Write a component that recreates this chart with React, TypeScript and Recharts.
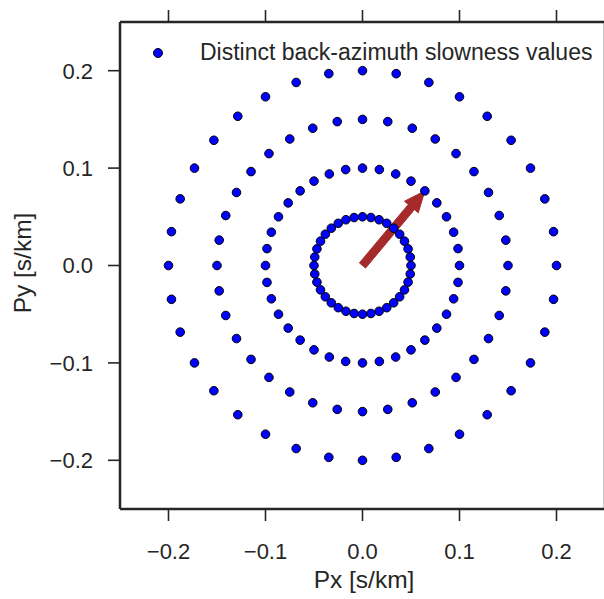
import React from 'react';
import { ScatterChart, Scatter, XAxis, YAxis, Legend, ReferenceLine } from 'recharts';

// slowness rings [s/km] and back-azimuths [deg] of the grid
const slownessRings = [0.05, 0.1, 0.15, 0.2];
const backAzimuths = [
  0, 10, 20, 30, 40, 50, 60, 70, 80, 90, 100, 110, 120, 130, 140, 150, 160, 170,
  180, 190, 200, 210, 220, 230, 240, 250, 260, 270, 280, 290, 300, 310, 320, 330, 340, 350,
];
const axisTicks = [-0.2, -0.1, 0.0, 0.1, 0.2];
const arrowSlowness = 0.1;
const arrowBackAzimuth = 40;

const deg = Math.PI / 180;
const points = slownessRings.flatMap(s =>
  backAzimuths.map(b => ({ px: s * Math.sin(b * deg), py: s * Math.cos(b * deg) }))
);
const arrowTip = {
  x: arrowSlowness * Math.sin(arrowBackAzimuth * deg),
  y: arrowSlowness * Math.cos(arrowBackAzimuth * deg),
};

const ink = '#262626';
const font = '"Liberation Sans", Arial, sans-serif';
const fmt = (v: number) => (v < 0 ? '\u2212' : '') + Math.abs(v).toFixed(1);

const Dot = (props: any) => (
  <circle cx={props.cx} cy={props.cy} r={4.3} fill="#0000ff" stroke="#000" strokeWidth={1} />
);

const Arrow = (props: any) => {
  const { x1, y1, x2, y2 } = props;
  const dx = x2 - x1, dy = y2 - y1;
  const len = Math.sqrt(dx * dx + dy * dy);
  const ux = dx / len, uy = dy / len;
  const nx = -uy, ny = ux;
  const w = 4, hw = 9, hl = 21;
  const bx = x2 - ux * hl, by = y2 - uy * hl;
  const pts = [
    [x1 + nx * w, y1 + ny * w],
    [bx + nx * w, by + ny * w],
    [bx + nx * hw, by + ny * hw],
    [x2, y2],
    [bx - nx * hw, by - ny * hw],
    [bx - nx * w, by - ny * w],
    [x1 - nx * w, y1 - ny * w],
  ];
  return (
    <polygon
      points={pts.map(p => p.join(',')).join(' ')}
      fill="#a52a2a"
      stroke="#a52a2a"
      strokeWidth={1}
    />
  );
};

const LegendBox = (props: any) => {
  const label = props.payload && props.payload[0] ? props.payload[0].value : '';
  return (
    <svg width={604} height={80} style={{ display: 'block' }}>
      <circle cx={158} cy={53} r={4.5} fill="#0000ff" stroke="#000" strokeWidth={1} />
      <text x={200} y={60} fontSize={23} fontFamily={font} fill={ink}>
        {label}
      </text>
    </svg>
  );
};

export default function App() {
  const tickStyle = { fontSize: 22, fontFamily: font, fill: ink };
  return (
    <div style={{ position: 'absolute', left: 0, top: 0, width: 604, height: 599, overflow: 'hidden', background: '#fff' }}>
      <ScatterChart width={606} height={599} margin={{ top: 0, right: 0, bottom: 0, left: 0 }}>
        <XAxis
          type="number"
          dataKey="px"
          domain={[-0.25, 0.25]}
          ticks={axisTicks}
          tickFormatter={fmt}
          height={90}
          tickSize={12}
          tickMargin={22}
          tick={tickStyle}
          axisLine={{ stroke: ink, strokeWidth: 2.5 }}
          tickLine={{ stroke: ink, strokeWidth: 1.6 }}
          allowDataOverflow
          label={() => (
            <text x={364} y={588} textAnchor="middle" fontSize={24.5} fontFamily={font} fill={ink}>
              Px [s/km]
            </text>
          )}
        />
        <XAxis
          xAxisId="top"
          orientation="top"
          type="number"
          dataKey="px"
          domain={[-0.25, 0.25]}
          ticks={axisTicks}
          height={22}
          tickSize={12}
          tick={() => <g />}
          axisLine={{ stroke: ink, strokeWidth: 2.5 }}
          tickLine={{ stroke: ink, strokeWidth: 1.6 }}
          allowDataOverflow
        />
        <YAxis
          type="number"
          dataKey="py"
          domain={[-0.25, 0.25]}
          ticks={axisTicks}
          tickFormatter={fmt}
          width={120}
          tickSize={12}
          tickMargin={15}
          tick={tickStyle}
          axisLine={{ stroke: ink, strokeWidth: 2.5 }}
          tickLine={{ stroke: ink, strokeWidth: 1.6 }}
          allowDataOverflow
          label={() => (
            <text
              x={31}
              y={263}
              textAnchor="middle"
              fontSize={24.5}
              fontFamily={font}
              fill={ink}
              transform="rotate(-90, 31, 263)"
            >
              Py [s/km]
            </text>
          )}
        />
        <YAxis
          yAxisId="right"
          orientation="right"
          type="number"
          dataKey="py"
          domain={[-0.25, 0.25]}
          ticks={axisTicks}
          width={1}
          tickSize={12}
          tick={() => <g />}
          axisLine={{ stroke: ink, strokeWidth: 2.5 }}
          tickLine={{ stroke: ink, strokeWidth: 1.6 }}
          allowDataOverflow
        />
        <Legend
          layout="horizontal"
          verticalAlign="middle"
          align="center"
          wrapperStyle={{ top: 0, left: 0, width: 604, height: 80 }}
          content={LegendBox}
        />
        <Scatter
          name="Distinct back-azimuth slowness values"
          data={points}
          shape={Dot}
          isAnimationActive={false}
        />
        <ReferenceLine
          segment={[{ x: 0, y: 0 }, { x: arrowTip.x, y: arrowTip.y }]}
          shape={Arrow}
          ifOverflow="visible"
        />
      </ScatterChart>
    </div>
  );
}
